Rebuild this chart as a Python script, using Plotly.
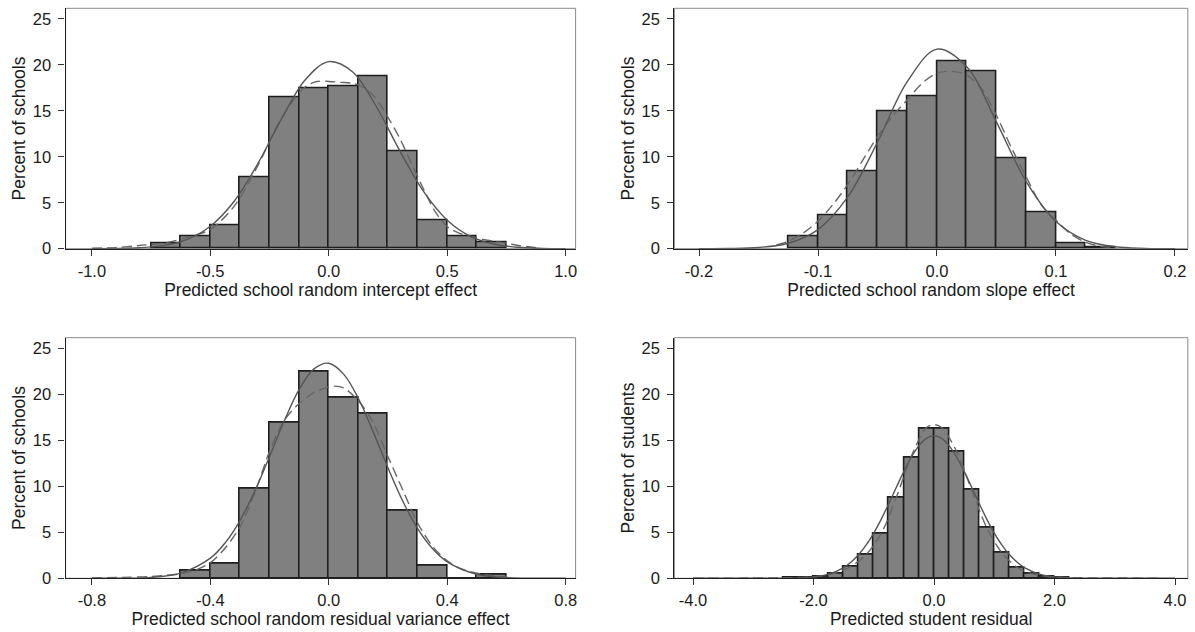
import plotly.graph_objects as go

# ---------------- data ----------------
# Panel 1: predicted school random intercept effect
p1_bin_left = [-0.75, -0.625, -0.5, -0.375, -0.25, -0.125, 0.0, 0.125, 0.25, 0.375, 0.5, 0.625]
p1_bin_width = 0.125
p1_pct = [0.62, 1.35, 2.6, 7.8, 16.5, 17.5, 17.7, 18.8, 10.6, 3.1, 1.35, 0.65]
p1_norm_x = [-1.0, -0.9, -0.8, -0.7, -0.6, -0.5, -0.4, -0.3, -0.2, -0.1, 0.0, 0.1, 0.2, 0.3, 0.4, 0.5, 0.6, 0.7, 0.8, 0.9, 1.0]
p1_norm_y = [0.005, 0.025, 0.10, 0.34, 0.99, 2.45, 5.14, 9.22, 14.1, 18.36, 20.36, 19.26, 15.5, 10.65, 6.23, 3.1, 1.32, 0.48, 0.15, 0.04, 0.01]
p1_kern_x = [-1.0, -0.9, -0.8, -0.7, -0.6, -0.5, -0.4, -0.3, -0.2, -0.1, -0.05, 0.0, 0.05, 0.1, 0.15, 0.2, 0.25, 0.3, 0.35, 0.4, 0.45, 0.5, 0.55, 0.6, 0.65, 0.7, 0.75, 0.8, 0.875]
p1_kern_y = [0.05, 0.12, 0.35, 0.6, 1.2, 2.1, 4.6, 9.0, 14.2, 17.6, 18.2, 18.2, 18.1, 18.0, 17.5, 16.3, 14.3, 12.0, 9.2, 6.5, 4.0, 2.4, 1.7, 1.3, 1.0, 0.8, 0.6, 0.35, 0.1]

# Panel 2: predicted school random slope effect
p2_bin_left = [-0.125, -0.1, -0.075, -0.05, -0.025, 0.0, 0.025, 0.05, 0.075, 0.1, 0.125]
p2_bin_width = 0.025
p2_pct = [1.38, 3.6, 8.38, 15.0, 16.57, 20.38, 19.27, 9.8, 3.96, 0.57, 0.2]
p2_norm_x = [-0.2, -0.175, -0.15, -0.125, -0.1, -0.075, -0.05, -0.025, 0.0, 0.025, 0.05, 0.075, 0.1, 0.125, 0.15, 0.175, 0.2]
p2_norm_y = [0.003, 0.02, 0.13, 0.59, 2.08, 5.63, 11.58, 18.17, 21.72, 19.8, 13.78, 7.3, 2.95, 0.91, 0.21, 0.04, 0.005]
p2_kern_x = [-0.135, -0.125, -0.1125, -0.1, -0.0875, -0.075, -0.0625, -0.05, -0.0375, -0.025, -0.0125, 0.0, 0.0125, 0.025, 0.0375, 0.05, 0.0625, 0.075, 0.0875, 0.1, 0.1125, 0.125, 0.1375, 0.15]
p2_kern_y = [0.4, 0.8, 1.7, 3.0, 4.8, 7.0, 9.6, 12.2, 14.4, 16.2, 18.0, 19.1, 19.3, 18.9, 17.4, 14.5, 11.0, 7.8, 4.8, 3.1, 1.6, 0.7, 0.25, 0.1]

# Panel 3: predicted school random residual variance effect
p3_bin_left = [-0.5, -0.4, -0.3, -0.2, -0.1, 0.0, 0.1, 0.2, 0.3, 0.4, 0.5]
p3_bin_width = 0.1
p3_pct = [0.84, 1.58, 9.78, 16.9, 22.5, 19.65, 17.95, 7.4, 1.42, 0.0, 0.38]
p3_norm_x = [-0.8, -0.7, -0.6, -0.5, -0.4, -0.35, -0.3, -0.25, -0.2, -0.15, -0.1, -0.05, 0.0, 0.05, 0.1, 0.15, 0.2, 0.25, 0.3, 0.35, 0.4, 0.5, 0.6, 0.7, 0.8]
p3_norm_y = [0.002, 0.015, 0.10, 0.56, 2.19, 3.85, 6.28, 9.48, 13.25, 17.15, 20.54, 22.77, 23.38, 22.2, 19.55, 15.92, 12.0, 8.38, 5.41, 3.24, 1.79, 0.44, 0.08, 0.01, 0.001]
p3_kern_x = [-0.8, -0.7, -0.6, -0.5, -0.45, -0.4, -0.35, -0.3, -0.25, -0.2, -0.15, -0.1, -0.05, 0.0, 0.02, 0.05, 0.1, 0.15, 0.2, 0.25, 0.3, 0.35, 0.4, 0.45, 0.5, 0.55, 0.6]
p3_kern_y = [0.05, 0.1, 0.2, 0.5, 0.9, 1.7, 3.3, 5.6, 9.3, 13.8, 17.2, 19.0, 20.2, 20.8, 20.9, 20.7, 19.3, 16.9, 13.2, 9.6, 6.0, 3.5, 1.9, 1.0, 0.55, 0.3, 0.15]

# Panel 4: predicted student residual
p4_bin_left = [-2.5, -2.25, -2.0, -1.75, -1.5, -1.25, -1.0, -0.75, -0.5, -0.25, 0.0, 0.25, 0.5, 0.75, 1.0, 1.25, 1.5, 1.75, 2.0]
p4_bin_width = 0.25
p4_pct = [0.05, 0.1, 0.22, 0.54, 1.3, 2.55, 4.8, 8.75, 13.15, 16.3, 16.3, 13.8, 9.6, 5.5, 2.75, 1.18, 0.5, 0.18, 0.06]
p4_norm_x = [-4.0, -3.0, -2.75, -2.5, -2.25, -2.0, -1.75, -1.5, -1.375, -1.25, -1.125, -1.0, -0.875, -0.75, -0.625, -0.5, -0.375, -0.25, -0.125, 0.0,
             0.125, 0.25, 0.375, 0.5, 0.625, 0.75, 0.875, 1.0, 1.125, 1.25, 1.375, 1.5, 1.75, 2.0, 2.25, 2.5, 2.75, 3.0, 4.0]
p4_norm_y = [0.0, 0.0005, 0.003, 0.012, 0.046, 0.157, 0.46, 1.17, 1.77, 2.58, 3.63, 4.92, 6.44, 8.13, 9.9, 11.63, 13.19, 14.43, 15.22, 15.5,
             15.22, 14.43, 13.19, 11.63, 9.9, 8.13, 6.44, 4.92, 3.63, 2.58, 1.77, 1.17, 0.46, 0.157, 0.046, 0.012, 0.003, 0.0005, 0.0]
p4_kern_x = [-4.0, -3.0, -2.5, -2.125, -1.875, -1.625, -1.375, -1.125, -0.875, -0.625, -0.375, -0.125, 0.0, 0.125, 0.375, 0.625, 0.875, 1.125, 1.375, 1.625, 1.875, 2.25, 2.75, 3.75]
p4_kern_y = [0.01, 0.03, 0.06, 0.12, 0.25, 0.6, 1.3, 2.6, 4.9, 8.8, 13.3, 16.4, 16.7, 16.4, 13.8, 9.6, 5.5, 2.8, 1.2, 0.5, 0.2, 0.08, 0.04, 0.02]

titles_x = ["Predicted school random intercept effect", "Predicted school random slope effect",
            "Predicted school random residual variance effect", "Predicted student residual"]
titles_y = ["Percent of schools", "Percent of schools", "Percent of schools", "Percent of students"]

x_ticks = [[-1.0, -0.5, 0.0, 0.5, 1.0], [-0.2, -0.1, 0.0, 0.1, 0.2], [-0.8, -0.4, 0.0, 0.4, 0.8], [-4.0, -2.0, 0.0, 2.0, 4.0]]
x_ticktext = [["-1.0", "-0.5", "0.0", "0.5", "1.0"], ["-0.2", "-0.1", "0.0", "0.1", "0.2"],
              ["-0.8", "-0.4", "0.0", "0.4", "0.8"], ["-4.0", "-2.0", "0.0", "2.0", "4.0"]]
y_ticks = [0, 5, 10, 15, 20, 25]

# ---------------- layout geometry ----------------
W, H = 1195, 632
x_ranges = [[-1.111, 1.042], [-0.2207, 0.2108], [-0.8889, 0.8335], [-4.309, 4.212]]
y_range = [0, 26.16]
px_x = [[65.6, 575.6], [674.4, 1187.8], [65.6, 575.6], [674.4, 1187.8]]
px_y = [[8.3, 248.7], [8.3, 248.7], [337.7, 578.3], [337.7, 578.3]]

BAR_FILL = "#808080"
BAR_LINE = "#1e1e1e"
CURVE = "#555555"
DASH = "#666666"
TEXT = "#1a1a1a"
FONT = "Liberation Sans, Arial, sans-serif"

panels = [
    (p1_bin_left, p1_bin_width, p1_pct, p1_norm_x, p1_norm_y, p1_kern_x, p1_kern_y),
    (p2_bin_left, p2_bin_width, p2_pct, p2_norm_x, p2_norm_y, p2_kern_x, p2_kern_y),
    (p3_bin_left, p3_bin_width, p3_pct, p3_norm_x, p3_norm_y, p3_kern_x, p3_kern_y),
    (p4_bin_left, p4_bin_width, p4_pct, p4_norm_x, p4_norm_y, p4_kern_x, p4_kern_y),
]

fig = go.Figure()
layout = dict(
    width=W, height=H, margin=dict(l=0, r=0, t=0, b=0),
    paper_bgcolor="white", plot_bgcolor="white", showlegend=False,
    font=dict(family=FONT, color=TEXT, size=16),
    bargap=0,
)
shapes = []
for i, (bl, bw, pct, nx, ny, kx, ky) in enumerate(panels):
    n = i + 1
    xa = "x" if n == 1 else f"x{n}"
    ya = "y" if n == 1 else f"y{n}"
    centers = [b + bw / 2 for b in bl]
    fig.add_trace(go.Bar(x=centers, y=pct, width=[bw] * len(bl), xaxis=xa, yaxis=ya,
                         marker=dict(color=BAR_FILL, line=dict(color=BAR_LINE, width=1.6))))
    fig.add_trace(go.Scatter(x=kx, y=ky, mode="lines", xaxis=xa, yaxis=ya,
                             line=dict(color=DASH, width=1.4, dash="10px,5px", shape="spline", smoothing=0.9)))
    fig.add_trace(go.Scatter(x=nx, y=ny, mode="lines", xaxis=xa, yaxis=ya,
                             line=dict(color=CURVE, width=1.4, shape="spline", smoothing=1.0)))
    xd = [px_x[i][0] / W, px_x[i][1] / W]
    yd = [1 - px_y[i][1] / H, 1 - px_y[i][0] / H]
    layout["xaxis" if n == 1 else f"xaxis{n}"] = dict(
        domain=xd, anchor=ya, range=x_ranges[i], tickvals=x_ticks[i], ticktext=x_ticktext[i],
        ticks="outside", ticklen=6, tickwidth=1, tickcolor="#333", showline=True, linecolor="#222",
        linewidth=1.3, showgrid=False, zeroline=False, automargin=False,
        tickfont=dict(size=16.5, color=TEXT), ticklabelstandoff=1,
        title=dict(text=titles_x[i], font=dict(size=17.5, color=TEXT), standoff=1),
    )
    layout["yaxis" if n == 1 else f"yaxis{n}"] = dict(
        domain=yd, anchor=xa, range=y_range, tickvals=y_ticks,
        ticks="outside", ticklen=6, tickwidth=1, tickcolor="#333", showline=True, linecolor="#222",
        linewidth=1.3, showgrid=False, zeroline=False, automargin=False,
        tickfont=dict(size=16.5, color=TEXT), ticklabelstandoff=4,
        title=dict(text=titles_y[i], font=dict(size=17.5, color=TEXT), standoff=2),
    )
    shapes.append(dict(type="rect", xref=f"{xa} domain", yref=f"{ya} domain", x0=0, x1=1, y0=0, y1=1,
                       line=dict(color="#8a8a8a", width=1), layer="below"))
layout["shapes"] = shapes
fig.update_layout(**layout)
fig.write_html("out.html", config={"displayModeBar": False},
               post_script="document.body.style.margin='0';document.body.style.overflow='hidden';")
